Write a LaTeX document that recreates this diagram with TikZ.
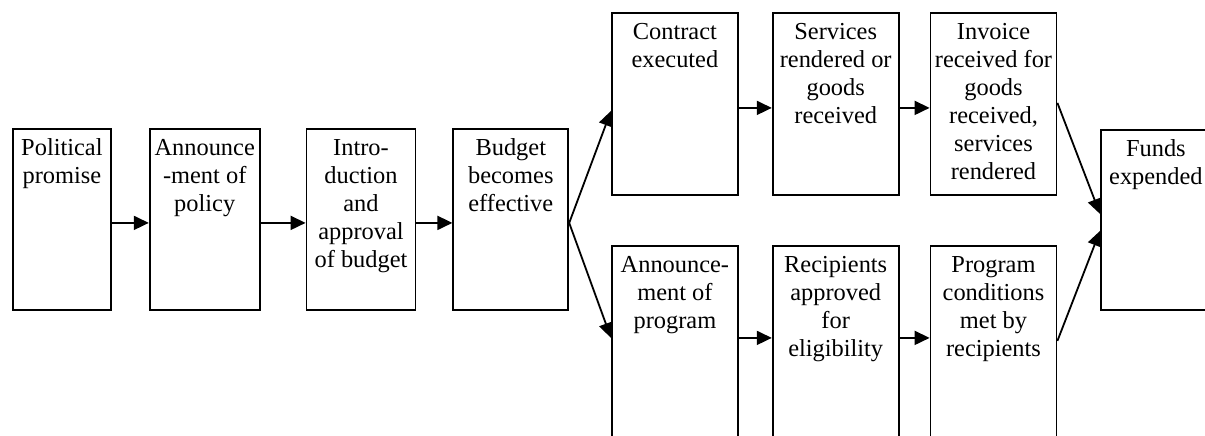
\documentclass[tikz,border=0pt]{standalone}
\usepackage{fontspec}
\setmainfont{Liberation Serif}
\usetikzlibrary{arrows.meta, positioning}
\newcommand{\stagetext}[3]{\parbox[t][#2][t]{#1}{\centering\rule{0pt}{13.5pt}#3}}
\tikzset{
    stage/.style={draw=black, line width=0.9pt, inner sep=0pt, font=\fontsize{12.2}{14}\selectfont},
    line/.style={draw=black, line width=0.9pt, -{Triangle[length=7.5pt, width=7pt]}}
}
\begin{document}
\begin{tikzpicture}[x=0.5pt, y=-0.5pt]
    \useasboundingbox (0,0) rectangle (1205,435);
    \clip (0,0) rectangle (1205,435);
    \node [stage, anchor=north west] (Promise) at (12,128) {\stagetext{49pt}{90.5pt}{Political\\promise}};
    \node [stage, right=18.5pt of Promise] (Policy) {\stagetext{55pt}{90.5pt}{Announce\\-ment of\\policy}};
    \node [stage, right=22.5pt of Policy] (Intro) {\stagetext{54.5pt}{90.5pt}{Intro-\\duction\\and\\approval\\of budget}};
    \node [stage, right=18pt of Intro] (Budget) {\stagetext{57.5pt}{90.5pt}{Budget\\becomes\\effective}};
    \node [stage, anchor=north west] (Contract) at (611,12) {\stagetext{63pt}{91pt}{Contract\\executed}};
    \node [stage, right=16.5pt of Contract] (Goods) {\stagetext{63pt}{91pt}{Services\\rendered or\\goods\\received}};
    \node [stage, right=15pt of Goods] (Invoice) {\stagetext{63pt}{91pt}{Invoice\\received for\\goods\\received,\\services\\rendered}};
    \node [stage, anchor=north west] (Program) at (611,245) {\stagetext{63pt}{100pt}{Announce-\\ment of\\program}};
    \node [stage, right=16.5pt of Program] (Eligible) {\stagetext{63pt}{100pt}{Recipients\\approved\\for\\eligibility}};
    \node [stage, right=15pt of Eligible] (Conditions) {\stagetext{63pt}{100pt}{Program\\conditions\\met by\\recipients}};
    \node [stage, anchor=north west] (Funds) at (1100,129) {\stagetext{55pt}{90pt}{Funds\\expended}};
    \draw [line] ([yshift=-1.75pt]Promise.east) -- ([yshift=-1.75pt]Policy.west);
    \draw [line] ([yshift=-1.75pt]Policy.east) -- ([yshift=-1.75pt]Intro.west);
    \draw [line] ([yshift=-1.75pt]Intro.east) -- ([yshift=-1.75pt]Budget.west);
    \draw [line] ([yshift=-1.75pt]Budget.east) -- ([yshift=-3.5pt]Contract.west);
    \draw [line] ([yshift=-1.75pt]Budget.east) -- ([yshift=4pt]Program.west);
    \draw [line] ([yshift=-2pt]Contract.east) -- ([yshift=-2pt]Goods.west);
    \draw [line] ([yshift=-2pt]Goods.east) -- ([yshift=-2pt]Invoice.west);
    \draw [line] ([yshift=4pt]Program.east) -- ([yshift=4pt]Eligible.west);
    \draw [line] ([yshift=4pt]Eligible.east) -- ([yshift=4pt]Conditions.west);
    \draw [line] ([yshift=0.5pt]Invoice.east) -- ([yshift=3pt]Funds.west);
    \draw [line] ([yshift=2.5pt]Conditions.east) -- ([yshift=-5.5pt]Funds.west);
\end{tikzpicture}
\end{document}
